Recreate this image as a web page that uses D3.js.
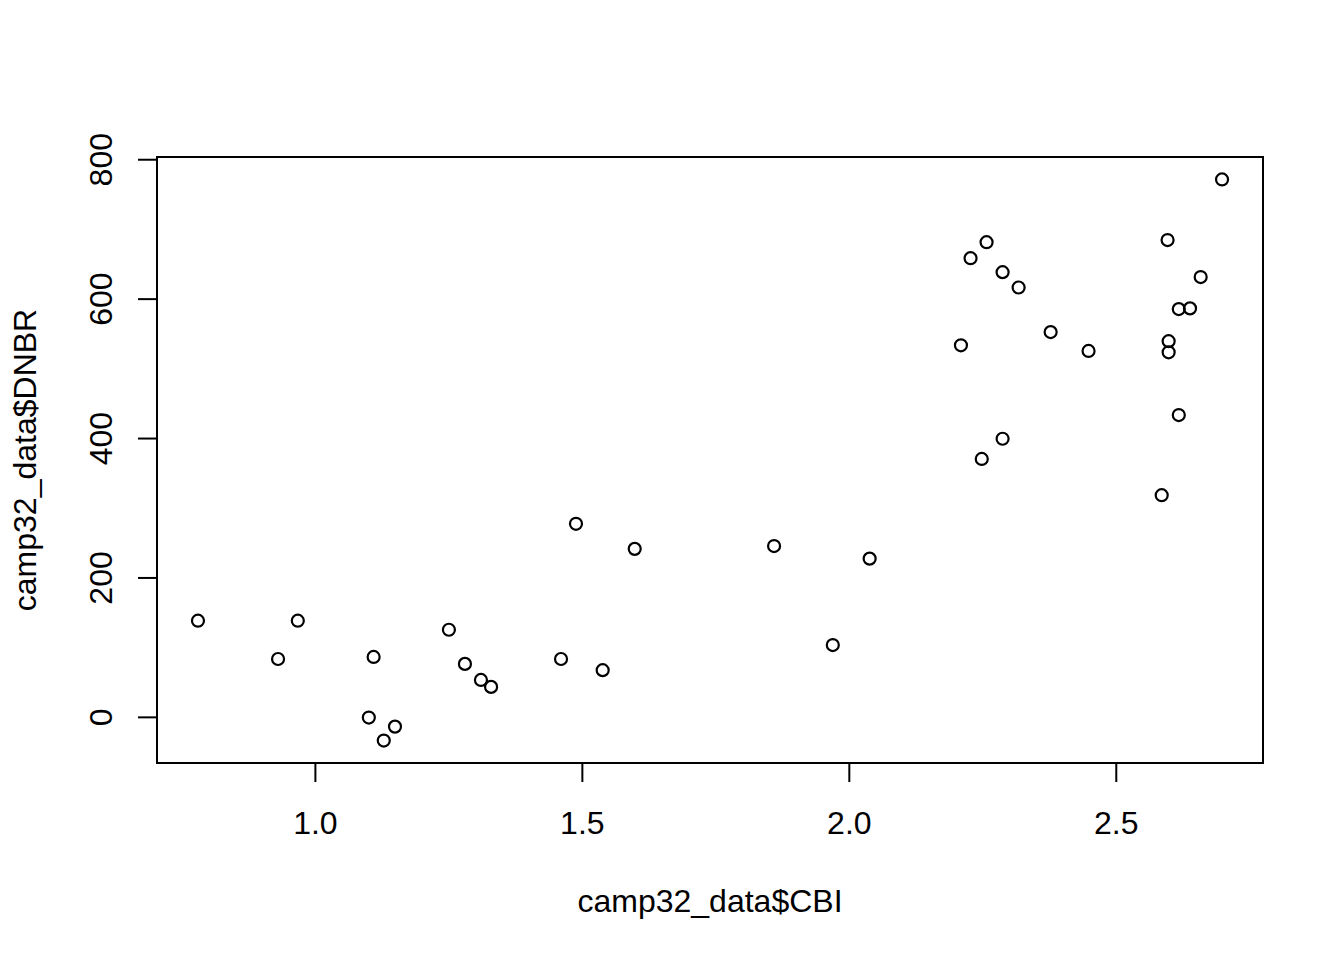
<!DOCTYPE html>
<html>
<head>
<meta charset="utf-8">
<script src="https://cdn.jsdelivr.net/npm/d3@7"></script>
<style>
html,body{margin:0;padding:0;background:#fff;}
svg{display:block;font-family:"Liberation Sans",Arial,sans-serif;}
</style>
</head>
<body>
<svg id="chart" width="1344" height="960"></svg>
<script>
const cbi = [0.781,0.931,0.968,1.101,1.110,1.129,1.150,1.251,1.281,1.311,1.330,1.461,1.489,1.539,1.599,1.860,1.970,2.039,2.210,2.228,2.249,2.258,2.288,2.288,2.318,2.378,2.449,2.586,2.597,2.599,2.599,2.618,2.618,2.639,2.659,2.699];
const dnbr = [138,83,138,-1,86,-34,-14,125,76,53,43,83,277,67,241,245,103,227,533,658,370,681,638,399,616,552,525,318,684,539,523,585,433,586,631,771];
const xTicks = [1.0,1.5,2.0,2.5];
const yTicks = [0,200,400,600,800];
const xLabel = "camp32_data$CBI";
const yLabel = "camp32_data$DNBR";

const svg = d3.select("#chart");
const L=157, R=1263, T=157, B=763;

function padDomain(v){const mn=d3.min(v),mx=d3.max(v),p=(mx-mn)*0.04;return [mn-p,mx+p];}
const x = d3.scaleLinear().domain(padDomain(cbi)).range([L,R]);
const y = d3.scaleLinear().domain(padDomain(dnbr)).range([B,T]);

// box
svg.append("rect").attr("x",L).attr("y",T).attr("width",R-L).attr("height",B-T)
  .attr("fill","none").attr("stroke","#000").attr("stroke-width",2);

// x axis
const xa = svg.append("g").attr("transform",`translate(0,${B})`)
  .call(d3.axisBottom(x).tickValues(xTicks).tickFormat(d3.format(".1f")).tickSize(19).tickPadding(29).tickSizeOuter(0));
xa.select(".domain").remove();
xa.selectAll("line").attr("stroke","#000").attr("stroke-width",2);
xa.selectAll("text").attr("font-size",32).attr("fill","#000").attr("font-family","Liberation Sans, Arial, sans-serif");

// y axis
const ya = svg.append("g").attr("transform",`translate(${L},0)`)
  .call(d3.axisLeft(y).tickValues(yTicks).tickFormat(d3.format("d")).tickSize(19).tickSizeOuter(0));
ya.select(".domain").remove();
ya.selectAll("line").attr("stroke","#000").attr("stroke-width",2);
ya.selectAll("text").attr("font-size",32).attr("fill","#000")
  .attr("font-family","Liberation Sans, Arial, sans-serif")
  .attr("x",null).attr("dy",null)
  .attr("text-anchor","middle")
  .attr("transform","translate(-45,0) rotate(-90)");

// points
svg.append("g").selectAll("circle").data(cbi.map((c,i)=>[c,dnbr[i]])).join("circle")
  .attr("cx",d=>x(d[0])).attr("cy",d=>y(d[1])).attr("r",6)
  .attr("fill","none").attr("stroke","#000").attr("stroke-width",2.2);

// labels
svg.append("text").attr("x",(L+R)/2).attr("y",912).attr("text-anchor","middle")
  .attr("font-size",32).attr("fill","#000").text(xLabel);
svg.append("text").attr("transform",`translate(36,${(T+B)/2}) rotate(-90)`).attr("text-anchor","middle")
  .attr("font-size",32).attr("fill","#000").text(yLabel);
</script>
</body>
</html>
